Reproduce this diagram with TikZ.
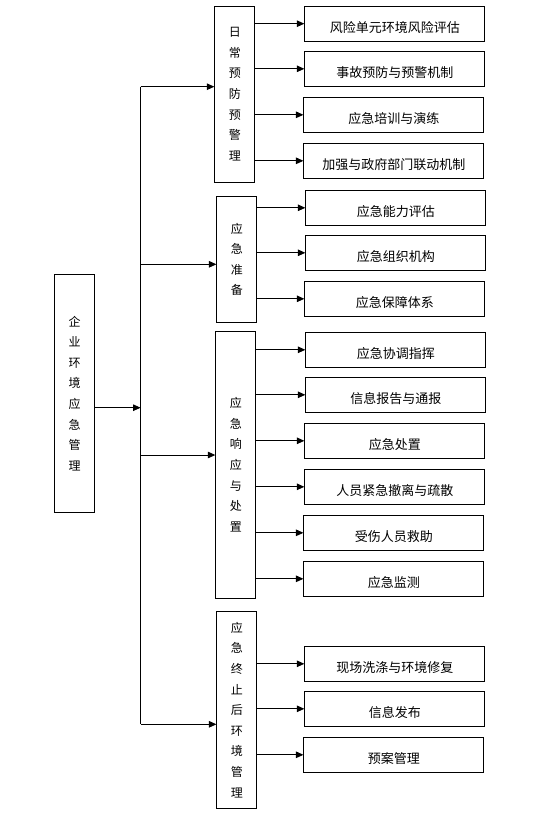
\documentclass[tikz,border=0pt]{standalone}
\usepackage{fontspec}
\newfontfamily\cjk{Noto Sans CJK SC}
\usetikzlibrary{arrows.meta}
\usetikzlibrary{positioning}

\begin{document}
\begin{tikzpicture}[x=1pt, y=-1pt, line width=0.9pt,
		>={Triangle[length=7.5pt,width=6.5pt]},
		colbox/.style={draw, minimum width=40pt, inner sep=0pt, align=center,
			font=\cjk\fontsize{12}{20.6}\selectfont},
		itembox/.style={draw, minimum width=180pt, minimum height=35pt, inner sep=0pt,
			text height=17pt, text depth=0pt, font=\cjk\fontsize{13}{15}\selectfont}]
	\useasboundingbox (0, 0) rectangle (547, 827);

	% left column
	\node[colbox, minimum height=238pt] (main) at (74.6, 393.3) {企\\业\\环\\境\\应\\急\\管\\理};

	% middle column
	\node[colbox, minimum height=176pt] (daily) at (234.8, 94.2) {日\\常\\预\\防\\预\\警\\理};
	\node[colbox, minimum height=126pt] (prep) at (236.9, 259.3) {应\\急\\准\\备};
	\node[colbox, minimum height=267pt] (resp) at (235.8, 464.8) {应\\急\\响\\应\\与\\处\\置};
	\node[colbox, minimum height=197pt] (post) at (236.9, 709.8) {应\\急\\终\\止\\后\\环\\境\\管\\理};

	% right column
	\node[itembox] (risk) at (394.8, 23.7) {风险单元环境风险评估};
	\node[itembox] (accid) at (394.8, 68.8) {事故预防与预警机制};
	\node[itembox] (train) at (393.9, 114.8) {应急培训与演练};
	\node[itembox] (gov) at (393.9, 160.8) {加强与政府部门联动机制};

	\node[itembox] (abil) at (395.8, 207.8) {应急能力评估};
	\node[itembox] (org) at (395.8, 252.8) {应急组织机构};
	\node[itembox] (supp) at (394.8, 298.8) {应急保障体系};

	\node[itembox] (coord) at (395.8, 349.8) {应急协调指挥};
	\node[itembox] (report) at (395.8, 394.8) {信息报告与通报};
	\node[itembox] (handle) at (394.8, 440.8) {应急处置};
	\node[itembox] (evac) at (394.8, 486.8) {人员紧急撤离与疏散};
	\node[itembox] (rescue) at (393.9, 532.8) {受伤人员救助};
	\node[itembox] (monit) at (393.9, 578.8) {应急监测};

	\node[itembox] (clean) at (394.8, 663.8) {现场洗涤与环境修复};
	\node[itembox] (publish) at (394.8, 708.8) {信息发布};
	\node[itembox] (plan) at (393.9, 754.8) {预案管理};

	% trunk
	\coordinate (t1) at (140.6, 86.7);
	\coordinate (t2) at (140.6, 264.3);
	\coordinate (t3) at (140.6, 455);
	\coordinate (t4) at (140.6, 724.3);
	\coordinate (tm) at (140.6, 407.7);

	\draw (t1) -- (t4);
	\draw[->] (tm -| main.east) -- (tm);
	\draw[->] (t1) -- (t1 -| daily.west);
	\draw[->] (t2) -- (t2 -| prep.west);
	\draw[->] (t3) -- (t3 -| resp.west);
	\draw[->] (t4) -- (t4 -| post.west);

	% branches
	\draw[->] (daily.east |- risk.west) -- (risk.west);
	\draw[->] (daily.east |- accid.west) -- (accid.west);
	\draw[->] (daily.east |- train.west) -- (train.west);
	\draw[->] (daily.east |- gov.west) -- (gov.west);

	\draw[->] (prep.east |- abil.west) -- (abil.west);
	\draw[->] (prep.east |- org.west) -- (org.west);
	\draw[->] (prep.east |- supp.west) -- (supp.west);

	\draw[->] (resp.east |- coord.west) -- (coord.west);
	\draw[->] (resp.east |- report.west) -- (report.west);
	\draw[->] (resp.east |- handle.west) -- (handle.west);
	\draw[->] (resp.east |- evac.west) -- (evac.west);
	\draw[->] (resp.east |- rescue.west) -- (rescue.west);
	\draw[->] (resp.east |- monit.west) -- (monit.west);

	\draw[->] (post.east |- clean.west) -- (clean.west);
	\draw[->] (post.east |- publish.west) -- (publish.west);
	\draw[->] (post.east |- plan.west) -- (plan.west);
\end{tikzpicture}
\end{document}
